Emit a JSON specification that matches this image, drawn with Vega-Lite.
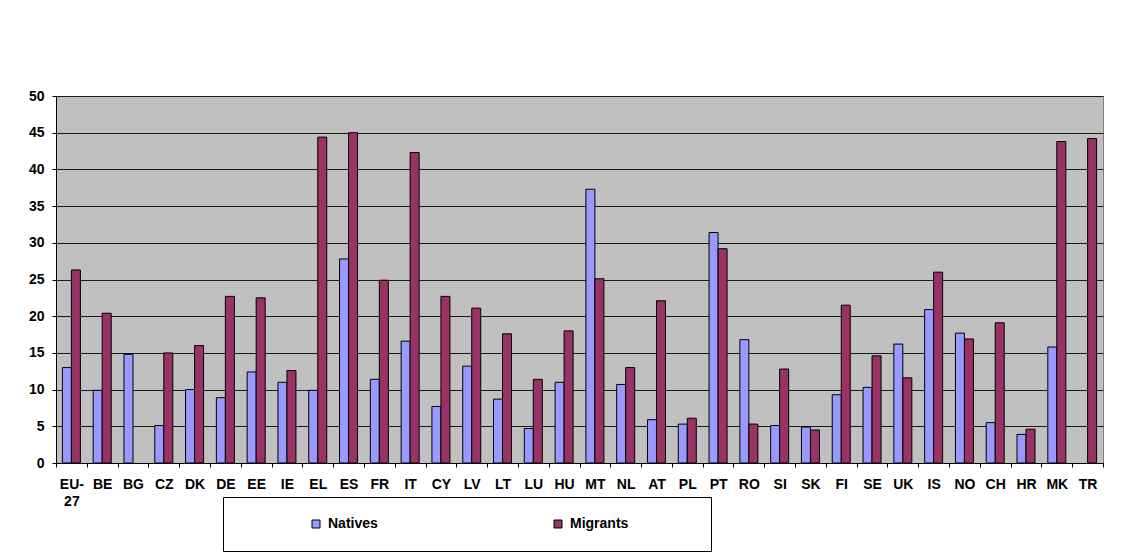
{
  "$schema": "https://vega.github.io/schema/vega-lite/v6.json",
  "autosize": {"type": "none"},
  "padding": {"left": 56, "top": 96, "right": 25, "bottom": 90},
  "width": 1047,
  "height": 367,
  "background": "white",
  "config": {
    "view": {"fill": "#C0C0C0", "stroke": "#808080", "strokeWidth": 1}
  },
  "data": {
    "values": [
      {"country": "EU-27", "group": "Natives", "value": 13.0},
      {"country": "EU-27", "group": "Migrants", "value": 26.3},
      {"country": "BE", "group": "Natives", "value": 9.9},
      {"country": "BE", "group": "Migrants", "value": 20.4},
      {"country": "BG", "group": "Natives", "value": 14.8},
      {"country": "CZ", "group": "Natives", "value": 5.1},
      {"country": "CZ", "group": "Migrants", "value": 15.0},
      {"country": "DK", "group": "Natives", "value": 10.0},
      {"country": "DK", "group": "Migrants", "value": 16.0},
      {"country": "DE", "group": "Natives", "value": 8.9},
      {"country": "DE", "group": "Migrants", "value": 22.7},
      {"country": "EE", "group": "Natives", "value": 12.4},
      {"country": "EE", "group": "Migrants", "value": 22.5},
      {"country": "IE", "group": "Natives", "value": 11.0},
      {"country": "IE", "group": "Migrants", "value": 12.6},
      {"country": "EL", "group": "Natives", "value": 9.9},
      {"country": "EL", "group": "Migrants", "value": 44.4},
      {"country": "ES", "group": "Natives", "value": 27.8},
      {"country": "ES", "group": "Migrants", "value": 45.0},
      {"country": "FR", "group": "Natives", "value": 11.4},
      {"country": "FR", "group": "Migrants", "value": 24.9},
      {"country": "IT", "group": "Natives", "value": 16.6},
      {"country": "IT", "group": "Migrants", "value": 42.3},
      {"country": "CY", "group": "Natives", "value": 7.7},
      {"country": "CY", "group": "Migrants", "value": 22.7},
      {"country": "LV", "group": "Natives", "value": 13.2},
      {"country": "LV", "group": "Migrants", "value": 21.1},
      {"country": "LT", "group": "Natives", "value": 8.7},
      {"country": "LT", "group": "Migrants", "value": 17.6},
      {"country": "LU", "group": "Natives", "value": 4.7},
      {"country": "LU", "group": "Migrants", "value": 11.4},
      {"country": "HU", "group": "Natives", "value": 11.0},
      {"country": "HU", "group": "Migrants", "value": 18.0},
      {"country": "MT", "group": "Natives", "value": 37.3},
      {"country": "MT", "group": "Migrants", "value": 25.1},
      {"country": "NL", "group": "Natives", "value": 10.7},
      {"country": "NL", "group": "Migrants", "value": 13.0},
      {"country": "AT", "group": "Natives", "value": 5.9},
      {"country": "AT", "group": "Migrants", "value": 22.1},
      {"country": "PL", "group": "Natives", "value": 5.3},
      {"country": "PL", "group": "Migrants", "value": 6.1},
      {"country": "PT", "group": "Natives", "value": 31.4},
      {"country": "PT", "group": "Migrants", "value": 29.2},
      {"country": "RO", "group": "Natives", "value": 16.8},
      {"country": "RO", "group": "Migrants", "value": 5.3},
      {"country": "SI", "group": "Natives", "value": 5.1},
      {"country": "SI", "group": "Migrants", "value": 12.8},
      {"country": "SK", "group": "Natives", "value": 4.9},
      {"country": "SK", "group": "Migrants", "value": 4.5},
      {"country": "FI", "group": "Natives", "value": 9.3},
      {"country": "FI", "group": "Migrants", "value": 21.5},
      {"country": "SE", "group": "Natives", "value": 10.3},
      {"country": "SE", "group": "Migrants", "value": 14.6},
      {"country": "UK", "group": "Natives", "value": 16.2},
      {"country": "UK", "group": "Migrants", "value": 11.6},
      {"country": "IS", "group": "Natives", "value": 20.9},
      {"country": "IS", "group": "Migrants", "value": 26.0},
      {"country": "NO", "group": "Natives", "value": 17.7},
      {"country": "NO", "group": "Migrants", "value": 16.9},
      {"country": "CH", "group": "Natives", "value": 5.5},
      {"country": "CH", "group": "Migrants", "value": 19.1},
      {"country": "HR", "group": "Natives", "value": 3.9},
      {"country": "HR", "group": "Migrants", "value": 4.6},
      {"country": "MK", "group": "Natives", "value": 15.8},
      {"country": "MK", "group": "Migrants", "value": 43.8},
      {"country": "TR", "group": "Migrants", "value": 44.2}
    ]
  },
  "mark": {"type": "bar", "stroke": "black", "strokeWidth": 1},
  "encoding": {
    "x": {
      "field": "country",
      "type": "nominal",
      "sort": null,
      "scale": {"paddingInner": 0, "paddingOuter": 0},
      "axis": {
        "title": null,
        "labelAngle": 0,
        "labelFont": "Liberation Sans, Arial",
        "labelFontWeight": "bold",
        "labelFontSize": 14,
        "labelColor": "black",
        "labelPadding": 10,
        "labelLineHeight": 17,
        "labelExpr": "datum.value == 'EU-27' ? ['EU-', '27'] : datum.label",
        "tickBand": "extent",
        "tickSize": 4,
        "tickColor": "black",
        "domainColor": "black",
        "grid": false
      }
    },
    "xOffset": {
      "field": "group",
      "type": "nominal",
      "sort": ["Natives", "Migrants"],
      "scale": {"paddingInner": 0, "paddingOuter": 0.71}
    },
    "y": {
      "field": "value",
      "type": "quantitative",
      "scale": {"domain": [0, 50], "nice": false},
      "axis": {
        "title": null,
        "values": [0, 5, 10, 15, 20, 25, 30, 35, 40, 45, 50],
        "labelFont": "Liberation Sans, Arial",
        "labelFontWeight": "bold",
        "labelFontSize": 14,
        "labelColor": "black",
        "labelPadding": 8,
        "tickSize": 4,
        "tickColor": "black",
        "domainColor": "black",
        "gridColor": "#1a1a1a",
        "gridWidth": 1
      }
    },
    "color": {
      "field": "group",
      "type": "nominal",
      "sort": ["Natives", "Migrants"],
      "scale": {"domain": ["Natives", "Migrants"], "range": ["#9999FF", "#993366"]},
      "legend": {
        "title": null,
        "orient": "none",
        "direction": "horizontal",
        "legendX": 167,
        "legendY": 401,
        "padding": 20,
        "strokeColor": "black",
        "fillColor": "white",
        "symbolType": "square",
        "symbolSize": 64,
        "symbolStrokeColor": "black",
        "symbolStrokeWidth": 1,
        "symbolOpacity": 1,
        "symbolOffset": 66,
        "labelOffset": 5,
        "columnPadding": 107,
        "labelFont": "Liberation Sans, Arial",
        "labelFontWeight": "bold",
        "labelFontSize": 14,
        "labelColor": "black",
        "labelLimit": 400,
        "labelExpr": "datum.label == 'Migrants' ? datum.label + '\u00a0\u00a0\u00a0\u00a0\u00a0\u00a0\u00a0\u00a0\u00a0\u00a0\u00a0\u00a0\u00a0\u00a0\u00a0\u00a0\u200b' : datum.label"
      }
    }
  }
}
